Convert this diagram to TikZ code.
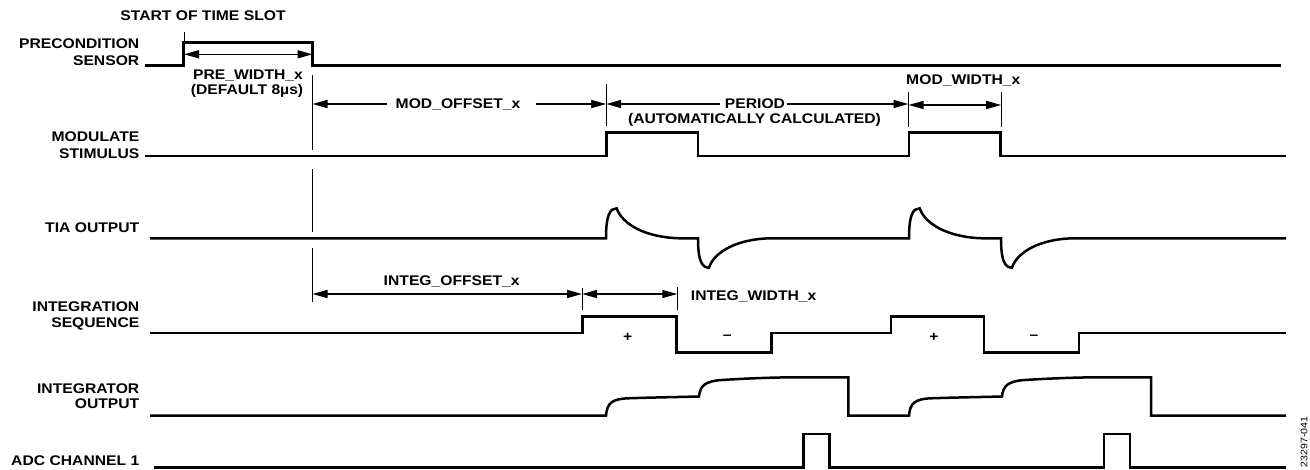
\documentclass[tikz,border=0pt]{standalone}
\usepackage{fontspec}
\setmainfont{Liberation Sans}[FakeStretch=1.12]
\usetikzlibrary{arrows.meta}
\begin{document}
\begin{tikzpicture}[x=1pt,y=-1pt,
  sig/.style={line width=2.5pt},
  tick/.style={line width=0.9pt},
  dimar/.style={line width=1.3pt,{Triangle[length=15pt,width=8pt]}-{Triangle[length=15pt,width=8pt]}},
  onear/.style={line width=1.3pt,-{Triangle[length=15pt,width=8pt]}},
  lbl/.style={font=\fontsize{14}{16}\selectfont\bfseries, inner sep=0pt, anchor=base east},
  txt/.style={font=\fontsize{14}{16}\selectfont\bfseries, inner sep=0pt, anchor=base},
  sgn/.style={font=\fontsize{14}{16}\selectfont\bfseries, inner sep=0pt}]
\useasboundingbox (0,0) rectangle (1310,469);

% ---- signal labels
\node[lbl] (pc1) at (139.5,48) {PRECONDITION};
\node[lbl] (pc2) at (139.5,65) {SENSOR};
\node[lbl] (ms1) at (139.5,141.7) {MODULATE};
\node[lbl] (ms2) at (139.5,158) {STIMULUS};
\node[lbl] (tia) at (139.5,232.7) {TIA OUTPUT};
\node[lbl] (is1) at (139.5,311.7) {INTEGRATION};
\node[lbl] (is2) at (139.5,327.7) {SEQUENCE};
\node[lbl] (io1) at (139.5,393) {INTEGRATOR};
\node[lbl] (io2) at (139.5,408.3) {OUTPUT};
\node[lbl] (adc) at (139.5,465) {ADC CHANNEL 1};

% ---- annotation texts
\node[txt] (start) at (203,20) {START OF TIME SLOT};
\node[txt] (prew1) at (248,79) {PRE\_WIDTH\_x};
\node[txt] (prew2) at (247,94) {(DEFAULT 8µs)};
\node[txt] (modoff) at (458,108) {MOD\_OFFSET\_x};
\node[txt] (per1) at (755,108) {PERIOD};
\node[txt] (per2) at (754.5,123.3) {(AUTOMATICALLY CALCULATED)};
\node[txt] (modw) at (963.3,84.3) {MOD\_WIDTH\_x};
\node[txt] (intoff) at (451.7,285) {INTEG\_OFFSET\_x};
\node[txt,anchor=base west] (intw) at (690.7,300) {INTEG\_WIDTH\_x};
\node[sgn] (p1) at (627.7,337.3) {+};
\node[sgn] (m1) at (727.3,337.3) {–};
\node[sgn] (p2) at (934,337.3) {+};
\node[sgn] (m2) at (1034,337.3) {–};
\node[rotate=90, font=\fontsize{9.5}{10}\selectfont, inner sep=0pt] (fig) at (1304,442) {23297-041};

% ---- reference coordinates
\coordinate (tS) at (184,54.3);
\coordinate (tP) at (312.5,54.3);
\coordinate (mA) at (312.5,104);
\coordinate (mB) at (606.2,104);
\coordinate (mC) at (908.5,104);
\coordinate (wA) at (908.5,105);
\coordinate (wB) at (1001.2,105);
\coordinate (iA) at (312.5,294);
\coordinate (iB) at (582,294);
\coordinate (iC) at (677.3,294);

% ---- thin marker lines
\draw[tick] (184,32) -- (184,65);
\draw[tick] (312.5,75) -- (312.5,150);
\draw[tick] (312.5,169) -- (312.5,232);
\draw[tick] (312.5,247.5) -- (312.5,302);
\draw[tick] (606.2,84) -- (606.2,126);
\draw[tick] (908.5,92) -- (908.5,127);
\draw[tick] (1001.2,92) -- (1001.2,127);
\draw[tick] (582,288) -- (582,310);
\draw[tick] (677.3,287) -- (677.3,310);

% ---- dimension arrows
\draw[dimar] (tS) -- (tP);
\draw[onear] (387,104) -- (mA);
\draw[onear] (536,104) -- (mB);
\draw[onear] (720,104) -- (mB);
\draw[onear] (787,104) -- (mC);
\draw[dimar] (wA) -- (wB);
\draw[dimar] (iA) -- (iB);
\draw[dimar] (iB) -- (iC);

% ---- signals
% precondition sensor
\draw[sig] (145,65.3) -- (183.3,65.3) -- (183.3,42.7) -- (312.7,42.7) -- (312.7,65.3) -- (1281,65.3);
% modulate stimulus
\draw[sig] (145,156) -- (606.7,156) -- (606.7,132.7) -- (698,132.7) -- (698,156)
  -- (909,156) -- (909,132.7) -- (1000.7,132.7) -- (1000.7,156) -- (1286,156);
% TIA output
\draw[sig] (150,238.3) -- (606,238.3)
  .. controls (606,215) and (610,208.3) .. (616.7,208.3)
  .. controls (622,224) and (645,237.5) .. (680,238.3) -- (698,238.3)
  .. controls (698,261) and (702,267.7) .. (709,267.7)
  .. controls (714,252) and (737,239) .. (770,238.3) -- (909,238.3)
  .. controls (909,215) and (913,208.3) .. (919.7,208.3)
  .. controls (925,224) and (948,237.5) .. (983,238.3) -- (1001,238.3)
  .. controls (1001,261) and (1005,267.7) .. (1012,267.7)
  .. controls (1017,252) and (1040,239) .. (1073,238.3) -- (1286,238.3);
% integration sequence
\draw[sig] (150,333) -- (582.7,333) -- (582.7,316.7) -- (676.7,316.7) -- (676.7,352.3)
  -- (771.7,352.3) -- (771.7,333) -- (891,333) -- (891,316.7) -- (984,316.7)
  -- (984,352.3) -- (1079,352.3) -- (1079,333) -- (1285.7,333);
% integrator output
\draw[sig] (150,415.7) -- (606,415.7)
  .. controls (607,403) and (612,399) .. (628,398.3)
  .. controls (650,397.5) and (680,397) .. (699,396.5)
  .. controls (700,386) and (705,381) .. (722,380)
  .. controls (745,378.5) and (770,377.5) .. (793,377.3) -- (848.3,377.3) -- (848.3,415.7)
  -- (909,415.7)
  .. controls (910,403) and (915,399) .. (931,398.3)
  .. controls (953,397.5) and (983,397) .. (1002,396.5)
  .. controls (1003,386) and (1008,381) .. (1025,380)
  .. controls (1048,378.5) and (1073,377.5) .. (1096,377.3) -- (1151,377.3) -- (1151,415.7)
  -- (1286,415.7);
% ADC channel 1
\draw[sig] (154,467.3) -- (803.3,467.3) -- (803.3,434) -- (829.3,434) -- (829.3,467.3)
  -- (1104,467.3) -- (1104,434) -- (1130,434) -- (1130,467.3) -- (1285.7,467.3);
\end{tikzpicture}
\end{document}
